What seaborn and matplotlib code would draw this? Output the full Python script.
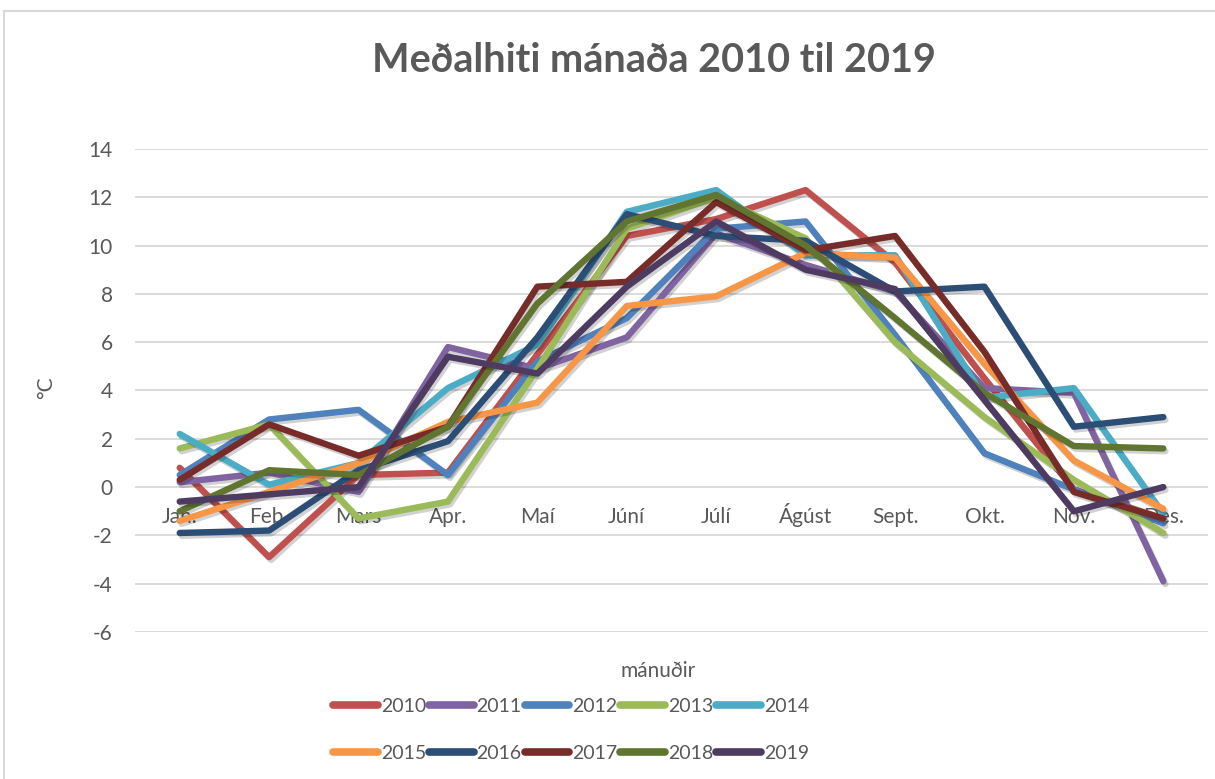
import matplotlib
matplotlib.use("Agg")
import matplotlib.pyplot as plt
import matplotlib.patheffects as pe
from matplotlib.lines import Line2D
import seaborn as sns
import pandas as pd

months = ["Jan.", "Feb.", "Mars", "Apr.", "Maí", "Júní", "Júlí", "Ágúst",
          "Sept.", "Okt.", "Nov.", "Des."]
years = ["2010", "2011", "2012", "2013", "2014", "2015", "2016", "2017", "2018", "2019"]

t2010 = [0.8, -2.9, 0.5, 0.6, 5.5, 10.4, 11.1, 12.3, 9.3, 4.5, -0.1, -1.3]
t2011 = [0.2, 0.6, -0.2, 5.8, 4.9, 6.2, 10.5, 9.2, 8.1, 4.1, 3.9, -3.9]
t2012 = [0.5, 2.8, 3.2, 0.5, 5.2, 7.0, 10.7, 11.0, 6.3, 1.4, -0.1, -1.5]
t2013 = [1.6, 2.6, -1.3, -0.6, 4.9, 10.7, 12.0, 10.3, 6.0, 2.9, 0.3, -1.9]
t2014 = [2.2, 0.1, 1.0, 4.1, 5.9, 11.4, 12.3, 9.6, 9.6, 3.7, 4.1, -1.1]
t2015 = [-1.4, -0.2, 1.0, 2.7, 3.5, 7.5, 7.9, 9.7, 9.5, 5.1, 1.1, -0.9]
t2016 = [-1.9, -1.8, 0.7, 1.9, 6.2, 11.3, 10.4, 10.2, 8.1, 8.3, 2.5, 2.9]
t2017 = [0.3, 2.6, 1.3, 2.5, 8.3, 8.5, 11.8, 9.8, 10.4, 5.6, -0.2, -1.3]
t2018 = [-1.0, 0.7, 0.5, 2.5, 7.6, 11.0, 12.1, 10.0, 7.0, 3.9, 1.7, 1.6]
t2019 = [-0.6, -0.3, 0.0, 5.4, 4.7, 8.3, 11.0, 9.0, 8.2, 3.6, -1.0, 0.0]

series = [t2010, t2011, t2012, t2013, t2014, t2015, t2016, t2017, t2018, t2019]
colors = ["#C0504D", "#8064A2", "#4F81BD", "#9BBB59", "#4BACC6",
          "#F79646", "#2C4D75", "#772C2A", "#5F7530", "#4D3B62"]

rows = []
for y, vals in zip(years, series):
    for m, v in zip(months, vals):
        rows.append({"month": m, "temp": v, "year": y})
df = pd.DataFrame(rows)

sns.set_style("white")
plt.rcParams["font.family"] = ["Lato", "DejaVu Sans"]
plt.rcParams["axes.unicode_minus"] = False
TXT = "#595959"

W, H = 1215, 779
fig = plt.figure(figsize=(W / 100, H / 100), dpi=100)
ax = fig.add_axes([135 / W, 1 - 632 / H, (1208 - 135) / W, (632 - 149) / H])

sns.lineplot(data=df, x="month", y="temp", hue="year", hue_order=years,
             palette=dict(zip(years, colors)), linewidth=4.6, sort=False, ax=ax)

for ln in ax.get_lines():
    ln.set_solid_capstyle("round")
    ln.set_path_effects([pe.SimpleLineShadow(offset=(1.5, -2), shadow_color="#000000", alpha=0.18),
                         pe.Normal()])

ax.set_xlim(-0.5, 11.5)
ax.set_ylim(-6, 14)
ax.set_yticks(range(-6, 15, 2))
ax.grid(axis="y", color="#D9D9D9", linewidth=1.3)
ax.grid(axis="x", visible=False)
ax.set_axisbelow(True)
for s in ax.spines.values():
    s.set_visible(False)
ax.spines["bottom"].set_position(("data", 0))
ax.tick_params(axis="x", length=0, pad=26, labelsize=15, labelcolor=TXT)
ax.tick_params(axis="y", length=0, pad=16, labelsize=15, labelcolor=TXT)
for lab in ax.get_xticklabels():
    lab.set_verticalalignment("baseline")
ax.set_xlabel("")
ax.set_ylabel("")

ax.get_legend().remove()
hs = [Line2D([0], [0], color=c, linewidth=5.5, solid_capstyle="round") for c in colors]
order = [0, 5, 1, 6, 2, 7, 3, 8, 4, 9]
fig.legend([hs[i] for i in order], [years[i] for i in order], ncol=5, loc="center",
           bbox_to_anchor=(571 / W, 1 - 730 / H),
           frameon=False, fontsize=14, labelcolor=TXT, handlelength=2.3,
           handletextpad=0.15, columnspacing=0.15, labelspacing=1.55, borderpad=0)

fig.text(654 / W, 1 - 61 / H, "Meðalhiti mánaða 2010 til 2019", ha="center", va="center",
         fontsize=28.5, fontweight="bold", color=TXT)
fig.text(658 / W, 1 - 671 / H, "mánuðir", ha="center", va="center", fontsize=15, color=TXT)
fig.text(46 / W, 1 - 388 / H, "°C", ha="center", va="center", rotation=90, fontsize=15, color=TXT)

fig.add_artist(Line2D([4 / W, 4 / W], [0, 1 - 11 / H], color="#D9D9D9", linewidth=1.5))
fig.add_artist(Line2D([4 / W, 1], [1 - 11 / H, 1 - 11 / H], color="#D9D9D9", linewidth=1.5))

fig.savefig("out.png", dpi=100, facecolor="white")
